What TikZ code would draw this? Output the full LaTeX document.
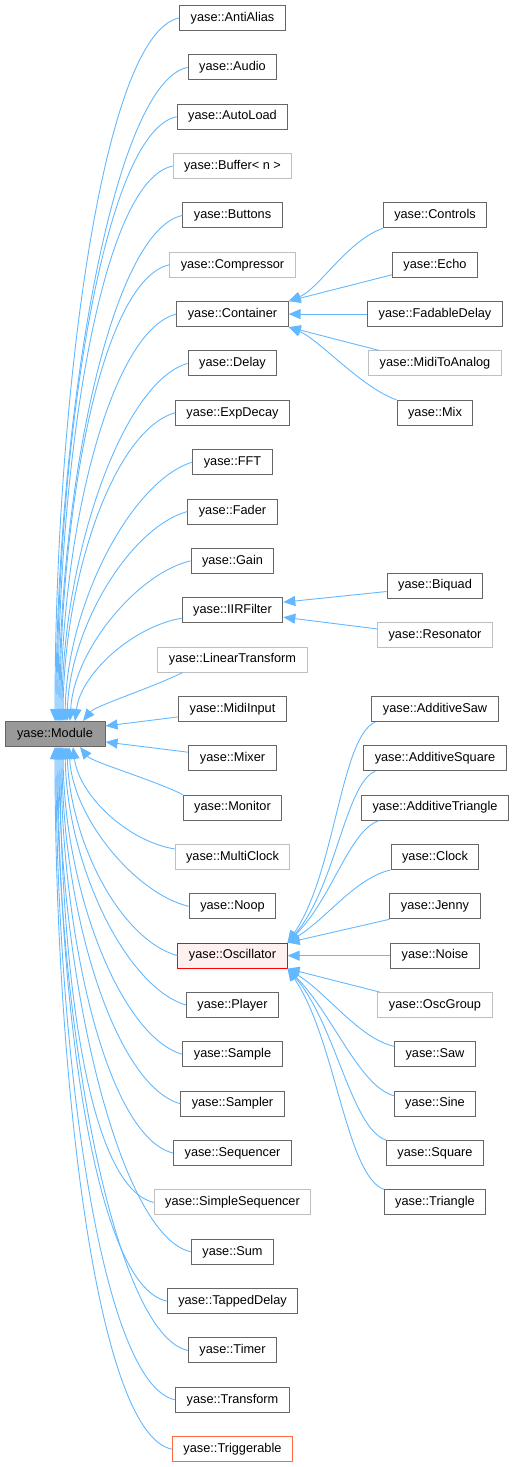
\documentclass[tikz,border=0pt]{standalone}
\usepackage{fontspec}
\usetikzlibrary{arrows.meta}
\newfontfamily\clsfont{Liberation Sans}

\definecolor{edgeblue}{HTML}{63B8FF}
\definecolor{clsgray}{HTML}{666666}
\definecolor{ghostgray}{HTML}{BFBFBF}
\definecolor{basegray}{HTML}{999999}
\definecolor{focuspink}{HTML}{FFF0F0}
\definecolor{trigorange}{HTML}{FF6A3D}

\tikzset{
  cls/.style={draw=clsgray, fill=white, line width=1pt, minimum height=25pt,
    inner xsep=11pt, inner ysep=0pt, text height=9pt, text depth=2.5pt,
    font={\clsfont\fontsize{12.75}{14}\selectfont}},
  ghost/.style={cls, draw=ghostgray},
  isa/.style={draw=edgeblue, line width=0.9pt, -{Triangle[length=12pt,width=10pt]}}
}

\begin{document}
\begin{tikzpicture}[x=1pt, y=-1pt]
\useasboundingbox (0,0) rectangle (516,1467);

\node[cls, fill=basegray, minimum width=100pt] (Module) at (55,734) {yase::Module};

\node[cls] (AntiAlias) at (232.5,18) {yase::AntiAlias};
\node[cls] (Audio) at (232.5,67.35) {yase::Audio};
\node[cls] (AutoLoad) at (232.5,116.7) {yase::AutoLoad};
\node[ghost] (Buffer) at (232.5,166.05) {yase::Buffer< n >};
\node[cls] (Buttons) at (232.5,215.4) {yase::Buttons};
\node[ghost] (Compressor) at (232.5,264.75) {yase::Compressor};
\node[cls] (Container) at (232.5,314.1) {yase::Container};
\node[cls] (Delay) at (232.5,363.45) {yase::Delay};
\node[cls] (ExpDecay) at (232.5,412.8) {yase::ExpDecay};
\node[cls] (FFT) at (232.5,462.15) {yase::FFT};
\node[cls] (Fader) at (232.5,511.5) {yase::Fader};
\node[cls] (Gain) at (232.5,560.85) {yase::Gain};
\node[cls] (IIRFilter) at (232.5,610.2) {yase::IIRFilter};
\node[ghost] (LinearTransform) at (232.5,659.55) {yase::LinearTransform};
\node[cls] (MidiInput) at (232.5,708.9) {yase::MidiInput};
\node[cls] (Mixer) at (232.5,758.25) {yase::Mixer};
\node[cls] (Monitor) at (232.5,807.6) {yase::Monitor};
\node[ghost] (MultiClock) at (232.5,856.95) {yase::MultiClock};
\node[cls] (Noop) at (232.5,906.3) {yase::Noop};
\node[cls, draw=red, fill=focuspink] (Oscillator) at (232.5,955.65) {yase::Oscillator};
\node[cls] (Player) at (232.5,1005) {yase::Player};
\node[cls] (Sample) at (232.5,1054.35) {yase::Sample};
\node[cls] (Sampler) at (232.5,1103.7) {yase::Sampler};
\node[cls] (Sequencer) at (232.5,1153.05) {yase::Sequencer};
\node[ghost] (SimpleSequencer) at (232.5,1202.4) {yase::SimpleSequencer};
\node[cls] (Sum) at (232.5,1251.75) {yase::Sum};
\node[cls] (TappedDelay) at (232.5,1301.1) {yase::TappedDelay};
\node[cls] (Timer) at (232.5,1350.45) {yase::Timer};
\node[cls] (Transform) at (232.5,1399.8) {yase::Transform};
\node[cls, draw=trigorange] (Triggerable) at (232.5,1449.15) {yase::Triggerable};

% container
\node[cls] (Controls) at (435,215.4) {yase::Controls};
\node[cls] (Echo) at (435,264.75) {yase::Echo};
\node[cls] (FadableDelay) at (435,314.1) {yase::FadableDelay};
\node[ghost] (MidiToAnalog) at (435,363.45) {yase::MidiToAnalog};
\node[cls] (Mix) at (435,412.8) {yase::Mix};

% filters
\node[cls] (Biquad) at (435,585.5) {yase::Biquad};
\node[ghost] (Resonator) at (435,634.9) {yase::Resonator};

% oscillators
\node[cls] (AdditiveSaw) at (435,708.9) {yase::AdditiveSaw};
\node[cls] (AdditiveSquare) at (435,758.25) {yase::AdditiveSquare};
\node[cls] (AdditiveTriangle) at (435,807.6) {yase::AdditiveTriangle};
\node[cls] (Clock) at (435,856.95) {yase::Clock};
\node[cls] (Jenny) at (435,906.3) {yase::Jenny};
\node[cls] (Noise) at (435,955.65) {yase::Noise};
\node[ghost] (OscGroup) at (435,1005) {yase::OscGroup};
\node[cls] (Saw) at (435,1054.35) {yase::Saw};
\node[cls] (Sine) at (435,1103.7) {yase::Sine};
\node[cls] (Square) at (435,1153.05) {yase::Square};
\node[cls] (Triangle) at (435,1202.4) {yase::Triangle};

\draw[isa] (AntiAlias.west) .. controls +(-77,15) and +(0,-320) .. (Module.north);
\draw[isa] (Audio.west) .. controls +(-75,15) and +(0,-300) .. ([xshift=1pt]Module.north);
\draw[isa] (AutoLoad.west) .. controls +(-73,15) and +(0,-280) .. ([xshift=2pt]Module.north);
\draw[isa] (Buffer.west) .. controls +(-72,15) and +(0,-258) .. ([xshift=3pt]Module.north);
\draw[isa] (Buttons.west) .. controls +(-70,15) and +(0,-236) .. ([xshift=4pt]Module.north);
\draw[isa] (Compressor.west) .. controls +(-68,16) and +(0,-212) .. ([xshift=5pt]Module.north);
\draw[isa] (Container.west) .. controls +(-66,16) and +(0,-188) .. ([xshift=6pt]Module.north);
\draw[isa] (Delay.west) .. controls +(-65,18) and +(0,-165) .. ([xshift=7pt]Module.north);
\draw[isa] (ExpDecay.west) .. controls +(-62,18) and +(1,-142) .. ([xshift=8pt]Module.north);
\draw[isa] (FFT.west) .. controls +(-60,18) and +(2,-118) .. ([xshift=10pt]Module.north);
\draw[isa] (Fader.west) .. controls +(-57,16) and +(3,-95) .. ([xshift=12pt]Module.north);
\draw[isa] (Gain.west) .. controls +(-52,12) and +(4,-72) .. ([xshift=15pt]Module.north);
\draw[isa] ([yshift=-8pt]IIRFilter.west) .. controls +(-48,8) and +(6,-48) .. ([xshift=20pt]Module.north);
\draw[isa] ([xshift=25pt]LinearTransform.south west) .. controls +(-30,15) and +(12,-15) .. ([xshift=28pt]Module.north);
\draw[isa] ([yshift=-8pt]MidiInput.west) -- ([yshift=8pt]Module.east);
\draw[isa] ([yshift=6pt]Mixer.west) -- ([yshift=-8pt]Module.east);
\draw[isa] (Monitor.north west) .. controls +(-30,-15) and +(12,15) .. ([xshift=25pt]Module.south);
\draw[isa] ([yshift=8pt]MultiClock.west) .. controls +(-48,-8) and +(6,48) .. ([xshift=18pt]Module.south);
\draw[isa] (Noop.west) .. controls +(-52,-12) and +(4,72) .. ([xshift=14pt]Module.south);
\draw[isa] (Oscillator.west) .. controls +(-57,-16) and +(3,95) .. ([xshift=12pt]Module.south);
\draw[isa] (Player.west) .. controls +(-60,-18) and +(2,118) .. ([xshift=10pt]Module.south);
\draw[isa] (Sample.west) .. controls +(-62,-18) and +(1,142) .. ([xshift=8pt]Module.south);
\draw[isa] (Sampler.west) .. controls +(-65,-18) and +(0,165) .. ([xshift=7pt]Module.south);
\draw[isa] (Sequencer.west) .. controls +(-66,-16) and +(0,188) .. ([xshift=6pt]Module.south);
\draw[isa] (SimpleSequencer.west) .. controls +(-68,-16) and +(0,212) .. ([xshift=5pt]Module.south);
\draw[isa] (Sum.west) .. controls +(-70,-15) and +(0,236) .. ([xshift=4pt]Module.south);
\draw[isa] (TappedDelay.west) .. controls +(-72,-15) and +(0,258) .. ([xshift=3pt]Module.south);
\draw[isa] (Timer.west) .. controls +(-73,-15) and +(0,280) .. ([xshift=2pt]Module.south);
\draw[isa] (Transform.west) .. controls +(-75,-15) and +(0,300) .. ([xshift=1pt]Module.south);
\draw[isa] (Triggerable.west) .. controls +(-77,-15) and +(0,320) .. (Module.south);

\draw[isa] (Controls.south west) .. controls +(-35,12) and +(30,-12) .. (Container.north east);
\draw[isa] ([yshift=-10pt]Echo.west) -- (Container.north east);
\draw[isa] (FadableDelay.west) -- (Container.east);
\draw[isa] ([xshift=11pt]MidiToAnalog.north west) -- (Container.south east);
\draw[isa] (Mix.north west) .. controls +(-35,-12) and +(30,12) .. (Container.south east);

\draw[isa] ([yshift=-6pt]Biquad.west) -- ([yshift=8pt]IIRFilter.east);
\draw[isa] ([yshift=6pt]Resonator.west) -- ([yshift=-7pt]IIRFilter.east);

\draw[isa] ([xshift=4pt]AdditiveSaw.south west) .. controls +(-35,15) and +(48,-70) .. (Oscillator.north east);
\draw[isa] ([xshift=12pt]AdditiveSquare.south west) .. controls +(-30,12) and +(48,-55) .. (Oscillator.north east);
\draw[isa] ([xshift=18pt]AdditiveTriangle.south west) .. controls +(-30,10) and +(45,-45) .. (Oscillator.north east);
\draw[isa] (Clock.south west) .. controls +(-35,8) and +(40,-25) .. (Oscillator.north east);
\draw[isa] (Jenny.south west) -- (Oscillator.north east);
\draw[isa] (Noise.west) -- (Oscillator.east);
\draw[isa] ([xshift=2pt]OscGroup.north west) -- (Oscillator.south east);
\draw[isa] ([yshift=8pt]Saw.west) .. controls +(-35,-8) and +(40,25) .. (Oscillator.south east);
\draw[isa] ([yshift=8pt]Sine.west) .. controls +(-35,-10) and +(45,45) .. (Oscillator.south east);
\draw[isa] (Square.north west) .. controls +(-35,-12) and +(48,55) .. (Oscillator.south east);
\draw[isa] (Triangle.north west) .. controls +(-38,-15) and +(48,70) .. (Oscillator.south east);

\end{tikzpicture}
\end{document}
